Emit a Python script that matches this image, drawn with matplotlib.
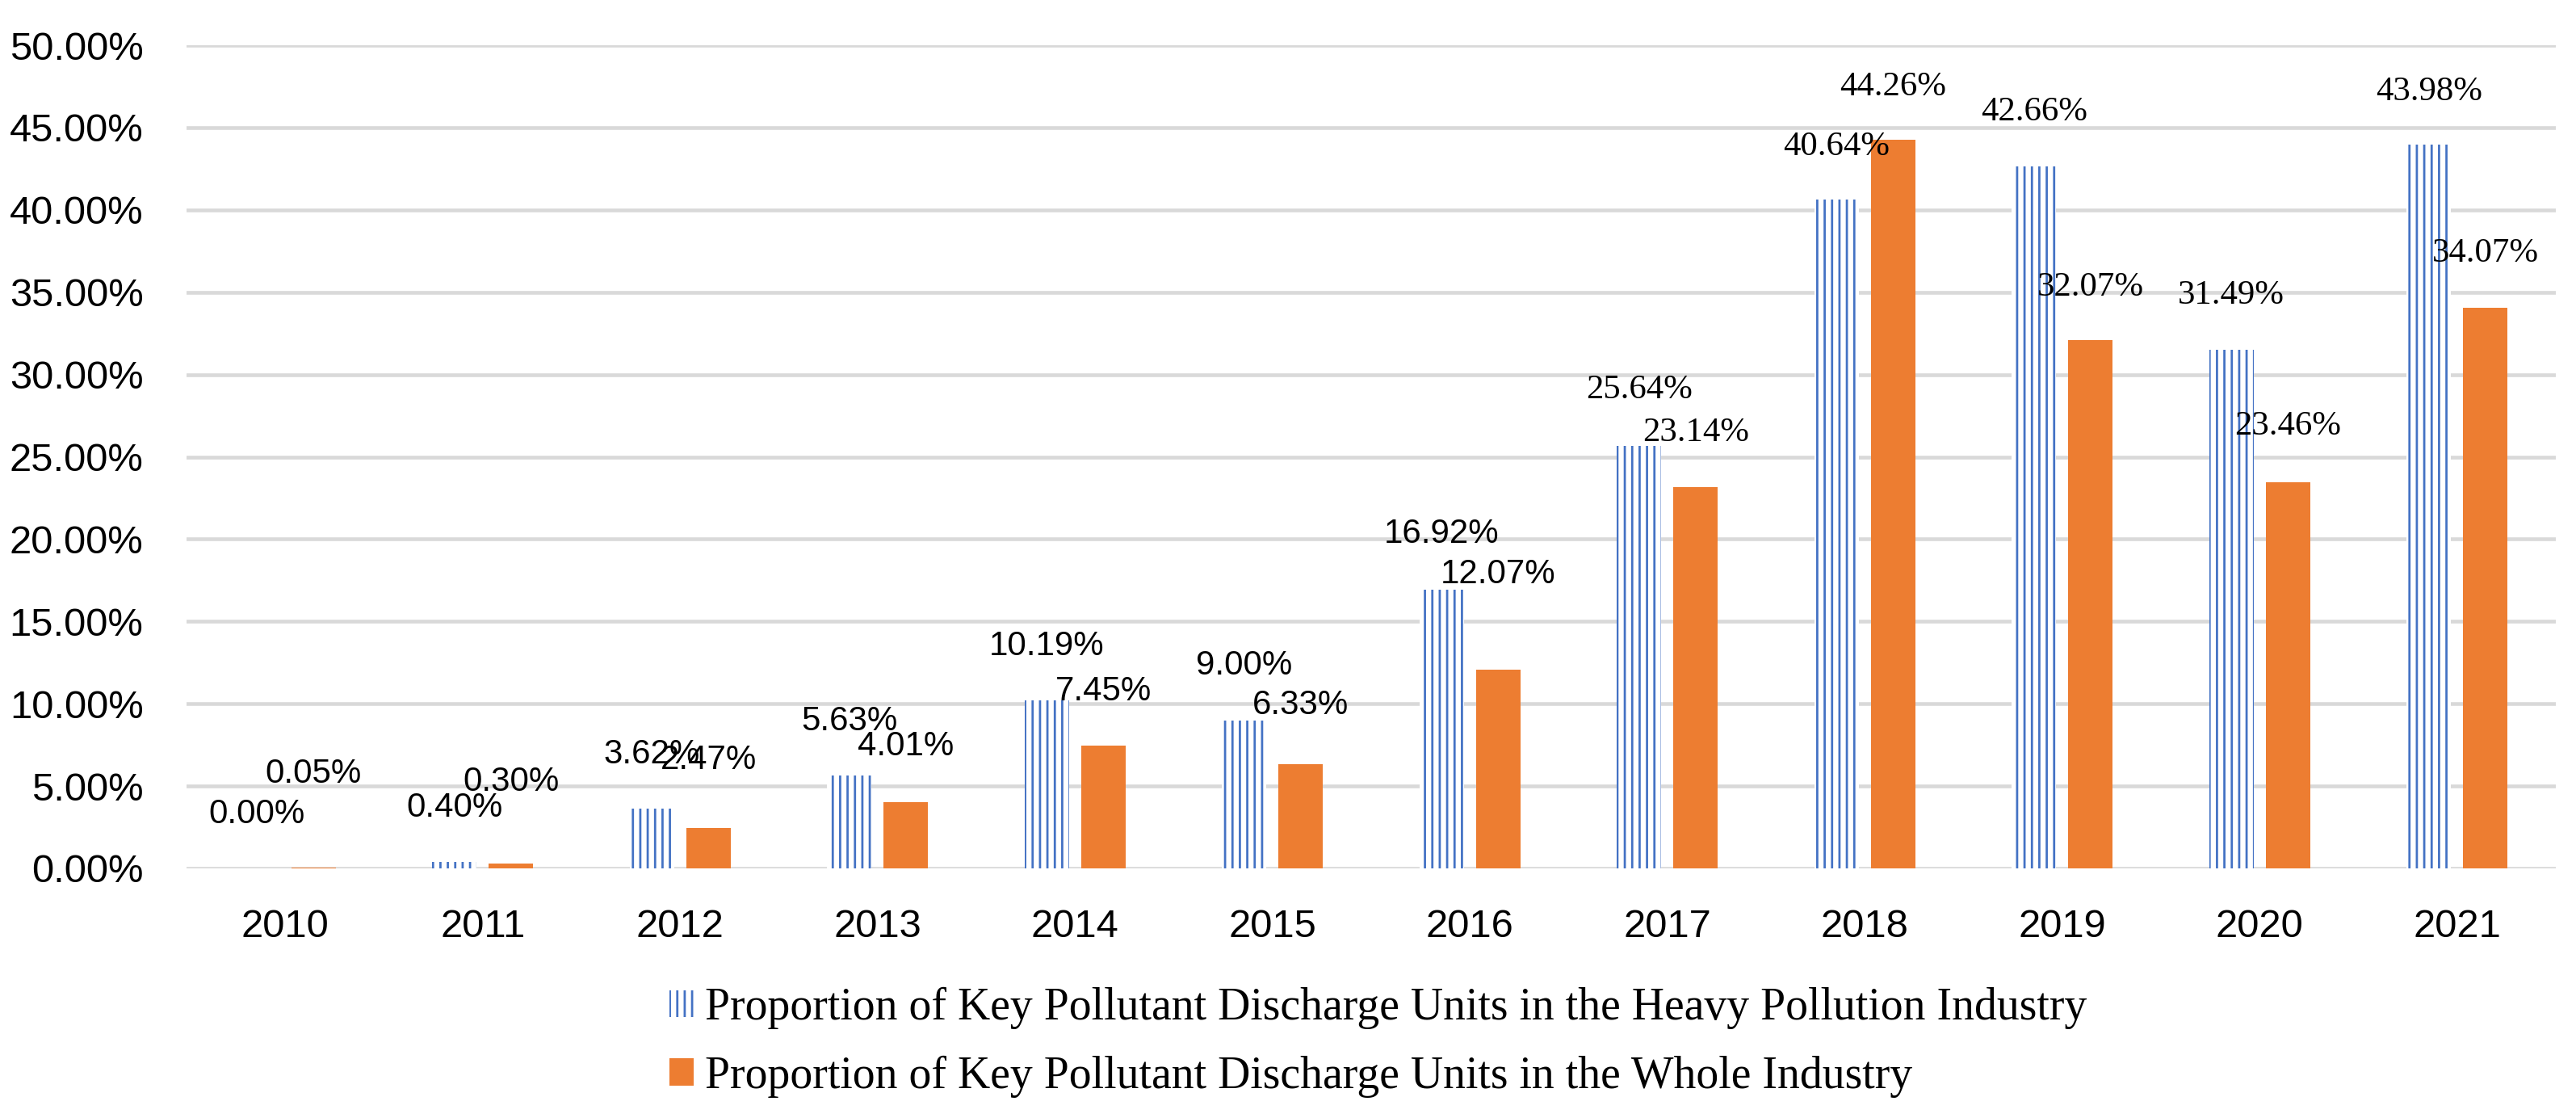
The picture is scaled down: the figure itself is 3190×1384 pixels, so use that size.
import numpy as np
import matplotlib.pyplot as plt

plt.rcParams['hatch.linewidth'] = 1.8

years = ['2010', '2011', '2012', '2013', '2014', '2015',
         '2016', '2017', '2018', '2019', '2020', '2021']
heavy = [0.00, 0.40, 3.62, 5.63, 10.19, 9.00, 16.92, 25.64, 40.64, 42.66, 31.49, 43.98]
whole = [0.05, 0.30, 2.47, 4.01, 7.45, 6.33, 12.07, 23.14, 44.26, 32.07, 23.46, 34.07]

name_heavy = 'Proportion of Key Pollutant Discharge Units in the Heavy Pollution Industry'
name_whole = 'Proportion of Key Pollutant Discharge Units in the Whole Industry'

# how far each data label sits above its bar (in % units), the labels were dragged by hand
lift_heavy = [3.3, 3.3, 3.3, 3.3, 3.3, 3.3, 3.4, 3.4, 3.2, 3.3, 3.3, 3.2]
lift_whole = [5.7, 4.95, 4.1, 3.4, 3.3, 3.6, 5.8, 3.3, 3.2, 3.2, 3.4, 3.3]

blue = '#4472C4'
orange = '#ED7D31'
W, H, DPI = 3190, 1384, 110

fig = plt.figure(figsize=(W / DPI, H / DPI), dpi=DPI)
ax = fig.add_axes([231 / W, 1 - 1075 / H, (3165 - 231) / W, (1075 - 56) / H])

x = np.arange(len(years))
bw = 0.225
off = 0.143

ax.bar(x - off, heavy, bw, color='white', edgecolor=blue, hatch='||', lw=0, label=name_heavy)
ax.bar(x + off, whole, bw, color=orange, lw=0, label=name_whole)


def put_label(xpos, v, lift):
    # the small labels in the source are set in a sans face, the big ones in a serif one
    if v < 20:
        fam, fs = 'Liberation Sans', 27.5
    else:
        fam, fs = 'Liberation Serif', 28
    ax.text(xpos, v + lift, f'{v:.2f}%', ha='center', va='center', fontsize=fs, family=fam)


for i in range(len(years)):
    put_label(x[i] - off, heavy[i], lift_heavy[i])
    put_label(x[i] + off, whole[i], lift_whole[i])

ax.set_xlim(-0.5, len(years) - 0.5)
ax.set_ylim(0, 50)
ax.set_xticks(x)
ax.set_xticklabels(years)
ax.set_yticks(np.arange(0, 51, 5))
ax.yaxis.set_major_formatter(lambda v, p: f'{v:.2f}%')
ax.grid(axis='y', color='#d9d9d9', lw=3)
ax.set_axisbelow(True)
for s in ax.spines.values():
    s.set_visible(False)
ax.tick_params(axis='both', length=0, labelsize=32)
ax.tick_params(axis='y', pad=35)
ax.tick_params(axis='x', pad=32.5)
for t in ax.get_xticklabels() + ax.get_yticklabels():
    t.set_family('Liberation Sans')

fig.legend(loc='upper left', bbox_to_anchor=(829 / W, 1 - 1222 / H), frameon=False,
           prop={'family': 'Liberation Serif', 'size': 36.5},
           handlelength=0.54, handleheight=0.54, handletextpad=0.25,
           labelspacing=0.58, borderpad=0, borderaxespad=0)

fig.savefig('out.png', dpi=DPI, facecolor='white')
